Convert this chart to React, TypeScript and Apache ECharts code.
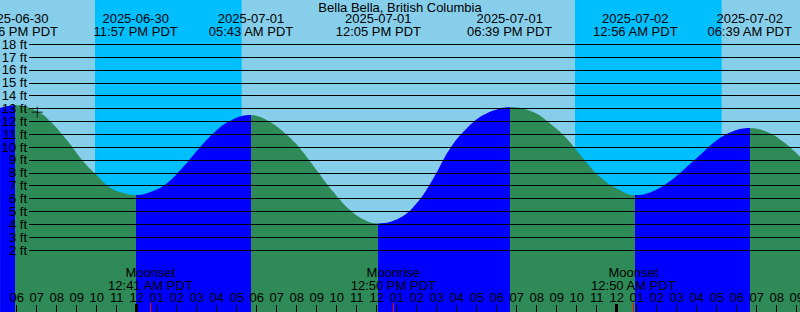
import React, { useEffect, useRef } from "react";
import * as echarts from "echarts";

const FONT = "'Liberation Sans', Arial, Helvetica, sans-serif";

// x values: hours since 2025-06-30 00:00 PDT
const xMin = 17.1667;
const xMax = 57.1667;
const yMin = -2.82;
const yMax = 21.44;

const tideHours = [
  17.17, 17.933, 19.02, 19.67, 20.52, 21.32, 21.92, 22.67, 23.42, 23.95,
  24.67, 25.52, 26.32, 27.17, 28.0, 28.83, 29.717, 30.5, 31.33, 32.17,
  33.0, 33.83, 34.67, 35.5, 36.083, 37.17, 38.0, 38.83, 39.67, 40.5,
  41.33, 42.17, 42.65, 43.83, 44.67, 45.5, 46.33, 47.17, 48.0, 48.933,
  49.67, 50.5, 51.33, 52.17, 53.0, 53.83, 54.65, 55.5, 56.33, 57.17,
];
const tideFeet = [
  13.05, 13.26, 12.8, 12.02, 10.54, 8.91, 7.94, 6.86, 6.39, 6.27,
  6.5, 7.2, 8.45, 10.0, 11.32, 12.17, 12.49, 12.1, 11.19, 9.9,
  8.21, 6.53, 5.11, 4.25, 4.07, 4.51, 5.63, 7.57, 9.9, 11.45,
  12.49, 13.01, 13.11, 12.74, 11.84, 10.68, 9.12, 7.67, 6.79, 6.27,
  6.48, 7.18, 8.21, 9.38, 10.54, 11.24, 11.48, 11.19, 10.41, 9.25,
];

const eventHours = [17.933, 23.95, 29.717, 36.083, 42.65, 48.933, 54.65];
const eventDates = ["2025-06-30", "2025-06-30", "2025-07-01", "2025-07-01", "2025-07-01", "2025-07-02", "2025-07-02"];
const eventTimes = ["05:56 PM PDT", "11:57 PM PDT", "05:43 AM PDT", "12:05 PM PDT", "06:39 PM PDT", "12:56 AM PDT", "06:39 AM PDT"];

const nightStart = [21.917, 45.917];
const nightEnd = [29.25, 53.25];

const moonHours = [24.683, 36.833, 48.833];
const moonEvents = ["Moonset", "Moonrise", "Moonset"];
const moonTimes = ["12:41 AM PDT", "12:50 PM PDT", "12:50 AM PDT"];

const hourTicks = [
  17, 18, 19, 20, 21, 22, 23, 24, 25, 26, 27, 28, 29, 30, 31, 32, 33, 34, 35, 36, 37,
  38, 39, 40, 41, 42, 43, 44, 45, 46, 47, 48, 49, 50, 51, 52, 53, 54, 55, 56, 57,
];
const midnightTicks = [24, 48];
const feetTicks = [2, 3, 4, 5, 6, 7, 8, 9, 10, 11, 12, 13, 14, 15, 16, 17, 18];

const nowHour = 19.03;
const nowFeet = 12.72;

const TITLE = "Bella Bella, British Columbia";

const SKY = "#87CEEB";
const NIGHT = "#00BFFF";
const RISE = "#0000FF";
const FALL = "#2E8B57";

function nearestIndex(arr: number[], v: number) {
  let best = 0;
  for (let i = 1; i < arr.length; i++) {
    if (Math.abs(arr[i] - v) < Math.abs(arr[best] - v)) best = i;
  }
  return best;
}

function hourLabel(v: number) {
  const h = Math.round(v) % 12 || 12;
  return (h < 10 ? "0" : "") + h;
}

export default function App() {
  const ref = useRef<HTMLDivElement>(null);

  useEffect(() => {
    if (!ref.current) return;
    const chart = echarts.init(ref.current, null, { renderer: "svg" });

    const labelGutterPx = 29;
    const lineStart = xMin + (labelGutterPx * (xMax - xMin)) / 800;

    const pieces: any[] = [];
    for (let i = 0; i <= eventHours.length; i++) {
      const p: any = { color: i % 2 === 0 ? RISE : FALL };
      if (i > 0) p.gte = eventHours[i - 1];
      if (i < eventHours.length) p.lt = eventHours[i];
      pieces.push(p);
    }

    const text = { color: "#000", fontSize: 13, fontFamily: FONT };
    const baseX = {
      type: "value",
      min: xMin,
      max: xMax,
      z: 10,
      axisLine: { show: false, onZero: false },
      splitLine: { show: false },
    };

    chart.setOption({
      animation: false,
      backgroundColor: SKY,
      title: {
        text: TITLE,
        left: "center",
        top: 1,
        padding: 0,
        textStyle: { ...text, fontWeight: "normal" },
      },
      grid: { left: 0, right: 0, top: 0, bottom: 0, containLabel: false, outerBoundsMode: "none" },
      xAxis: [
        {
          ...baseX,
          position: "bottom",
          axisTick: { show: true, inside: true, length: 7, customValues: hourTicks, lineStyle: { color: "#000", width: 1 } },
          axisLabel: { show: true, inside: true, margin: 8, customValues: hourTicks, formatter: hourLabel, ...text },
        },
        {
          ...baseX,
          position: "bottom",
          axisTick: { show: true, inside: true, length: 8, customValues: midnightTicks, lineStyle: { color: "#000", width: 3 } },
          axisLabel: { show: false },
        },
        {
          ...baseX,
          position: "bottom",
          axisTick: { show: true, inside: true, length: 9, customValues: moonHours, lineStyle: { color: "#ff0000", width: 1 } },
          axisLabel: {
            show: true,
            inside: true,
            margin: 20,
            customValues: moonHours,
            lineHeight: 13,
            formatter: (v: number) => {
              const i = nearestIndex(moonHours, v);
              return moonEvents[i] + "\n" + moonTimes[i];
            },
            ...text,
          },
        },
        {
          ...baseX,
          position: "top",
          axisTick: { show: false },
          axisLabel: {
            show: true,
            inside: true,
            margin: 12,
            customValues: eventHours,
            lineHeight: 13,
            formatter: (v: number) => {
              const i = nearestIndex(eventHours, v);
              return eventDates[i] + "\n" + eventTimes[i];
            },
            ...text,
          },
        },
      ],
      yAxis: { type: "value", min: yMin, max: yMax, show: false },
      visualMap: {
        type: "piecewise",
        show: false,
        dimension: 0,
        seriesIndex: 1,
        pieces,
      },
      series: [
        {
          type: "line",
          z: 1,
          data: [],
          silent: true,
          markArea: {
            silent: true,
            z: 1,
            itemStyle: { color: NIGHT, opacity: 1 },
            data: nightStart.map((s, i) => [{ xAxis: s }, { xAxis: nightEnd[i] }]),
          },
        },
        {
          type: "line",
          z: 2,
          silent: true,
          smooth: 0.4,
          symbol: "none",
          lineStyle: { width: 0 },
          areaStyle: { opacity: 1, origin: "start" },
          data: tideHours.map((t, i) => [t, tideFeet[i]]),
        },
        {
          type: "line",
          z: 5,
          data: [],
          silent: true,
          markLine: {
            silent: true,
            z: 5,
            symbol: ["none", "none"],
            lineStyle: { color: "#000", width: 1, type: "solid" },
            label: { show: true, position: "start", formatter: "{b}", distance: 2, ...text },
            data: feetTicks.map((f) => [
              { name: f + " ft", coord: [lineStart, f] },
              { coord: [xMax, f] },
            ]),
          },
        },
        {
          type: "scatter",
          z: 6,
          silent: true,
          symbol: "path://M5 0L5 10M0 5L10 5",
          symbolSize: 11,
          itemStyle: { color: "rgba(0,0,0,0)", borderColor: "#000", borderWidth: 1 },
          data: [[nowHour, nowFeet]],
        },
      ],
    });

    return () => chart.dispose();
  }, []);

  return (
    <div
      ref={ref}
      style={{ position: "fixed", left: 0, top: 0, width: 800, height: 312 }}
    />
  );
}
